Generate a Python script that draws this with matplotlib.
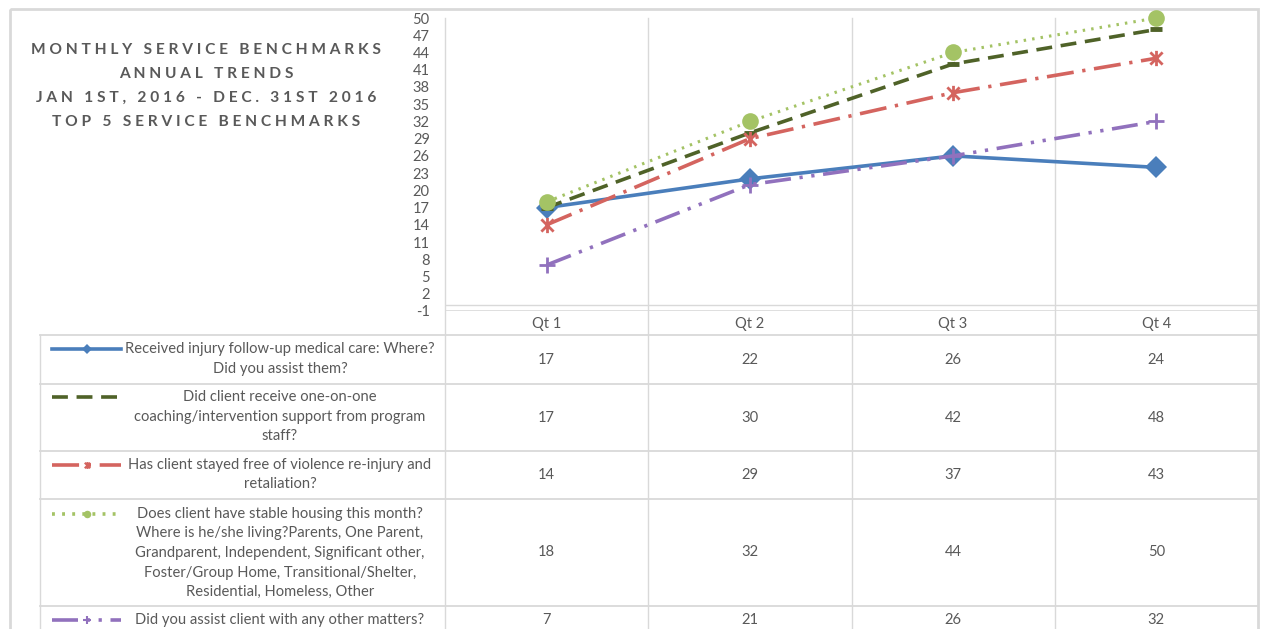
import matplotlib
matplotlib.use('Agg')
import matplotlib.pyplot as plt
from matplotlib.path import Path
from matplotlib.patches import Rectangle
from matplotlib.transforms import blended_transform_factory

plt.rcParams['font.family'] = ['Lato', 'DejaVu Sans']
plt.rcParams['axes.unicode_minus'] = False

quarters = ['Qt 1', 'Qt 2', 'Qt 3', 'Qt 4']
followup_care = [17, 22, 26, 24]
coaching = [17, 30, 42, 48]
violence_free = [14, 29, 37, 43]
stable_housing = [18, 32, 44, 50]
other_matters = [7, 21, 26, 32]

series_labels = [
    'Received injury follow-up medical care: Where?\nDid you assist them?',
    'Did client receive one-on-one\ncoaching/intervention support from program\nstaff?',
    'Has client stayed free of violence re-injury and\nretaliation?',
    'Does client have stable housing this month?\nWhere is he/she living?Parents, One Parent,\n'
    'Grandparent, Independent, Significant other,\nFoster/Group Home, Transitional/Shelter,\n'
    'Residential, Homeless, Other',
    'Did you assist client with any other matters?',
]
title_lines = ['MONTHLY SERVICE BENCHMARKS', 'ANNUAL TRENDS',
               'JAN 1ST, 2016 - DEC. 31ST 2016', 'TOP 5 SERVICE BENCHMARKS']
yticks = list(range(-1, 51, 3))

W, H = 1261, 629
GRID = '#d9d9d9'
TXT = '#595959'

star = Path([(0, -1), (0, 1), (-0.8, -0.8), (0.8, 0.8), (-0.8, 0.8), (0.8, -0.8)],
            [Path.MOVETO, Path.LINETO] * 3)

styles = [
    dict(color='#4a7ebb', ls='-', marker='D', ms=11, mew=0),
    dict(color='#4f6228', ls=(0, (4.4, 2.4)), marker='_', ms=9, mew=3.5),
    dict(color='#d4645f', ls=(0, (7.5, 2.4, 0.9, 2.4)), marker=star, ms=11, mew=2),
    dict(color='#a4c365', ls=(0, (0.8, 2.0)), marker='o', ms=12, mew=0),
    dict(color='#9171bd', ls=(0, (7.2, 2.4, 0.9, 2.4, 0.9, 2.4)), marker='+', ms=12, mew=2),
]
series = [followup_care, coaching, violence_free, stable_housing, other_matters]

fig = plt.figure(figsize=(W / 100, H / 100), dpi=100)

# pixel-space layer for the frame, title and data table
bg = fig.add_axes([0, 0, 1, 1], zorder=0)
bg.set_xlim(0, W)
bg.set_ylim(H, 0)
bg.axis('off')

ax = fig.add_axes([445 / W, 1 - 311 / H, 813 / W, 293 / H], zorder=1)
ax.patch.set_alpha(0)
for s in ax.spines.values():
    s.set_visible(False)
ax.set_xlim(-0.5, 3.5)
ax.set_ylim(-1, 50)
ax.set_yticks(yticks)
ax.set_xticks(range(len(quarters)), quarters)
ax.tick_params(length=0, labelsize=10.5, colors=TXT)
ax.tick_params(axis='y', pad=11)
ax.tick_params(axis='x', pad=4)
ax.axhline(0, color=GRID, lw=1)
ax.axhline(-1, color=GRID, lw=1.2)

for vals, st in zip(series, styles):
    lw = 2.2 if st['marker'] == 'o' else 2.6
    ax.plot(range(len(quarters)), vals, color=st['color'], ls=st['ls'], lw=lw,
            marker=st['marker'], ms=st['ms'], mew=st['mew'],
            mec=st['color'], mfc=st['color'], clip_on=False)

# outer frame
bg.add_patch(Rectangle((10, 9), 1248, 660, fill=False, ec=GRID, lw=2))

# title block
def spaced(s):
    return '   '.join(' '.join(w) for w in s.split(' '))

for i, line in enumerate(title_lines):
    bg.text(206, 50 + i * 24, spaced(line), ha='center', va='center',
            fontsize=11.2, fontweight='bold', color=TXT)

# table grid: columns follow the category axis
colx = blended_transform_factory(ax.transData, bg.transData)
for xb in [-0.5, 0.5, 1.5, 2.5]:
    bg.plot([xb, xb], [18, H], color=GRID, lw=1, transform=colx)
bg.plot([40, 40], [335, H], color=GRID, lw=1)
row_edges = [335, 384, 451, 499, 606]
for yb in row_edges:
    bg.plot([40, 1258], [yb, yb], color=GRID, lw=1.3)

key_y = [349, 397, 465, 514, 620]
row_mid = [359.5, 417.5, 475, 552.5, 620]
for k, (vals, st, label) in enumerate(zip(series, styles, series_labels)):
    bg.plot([52, 86.5, 121], [key_y[k]] * 3, color=st['color'], ls=st['ls'], lw=2.6,
            marker=st['marker'], markevery=[1], ms=st['ms'] * 0.45,
            mew=min(st['mew'], 1.5), mec=st['color'], mfc=st['color'])
    for j, txt in enumerate(label.split('\n')):
        bg.text(280, key_y[k] + j * 19.5, txt, ha='center', va='center',
                fontsize=10.6, color=TXT)
    for q, v in enumerate(vals):
        bg.text(q, row_mid[k], str(v), ha='center', va='center', fontsize=10.6,
                color=TXT, transform=colx)

fig.savefig('out.png', dpi=100)
